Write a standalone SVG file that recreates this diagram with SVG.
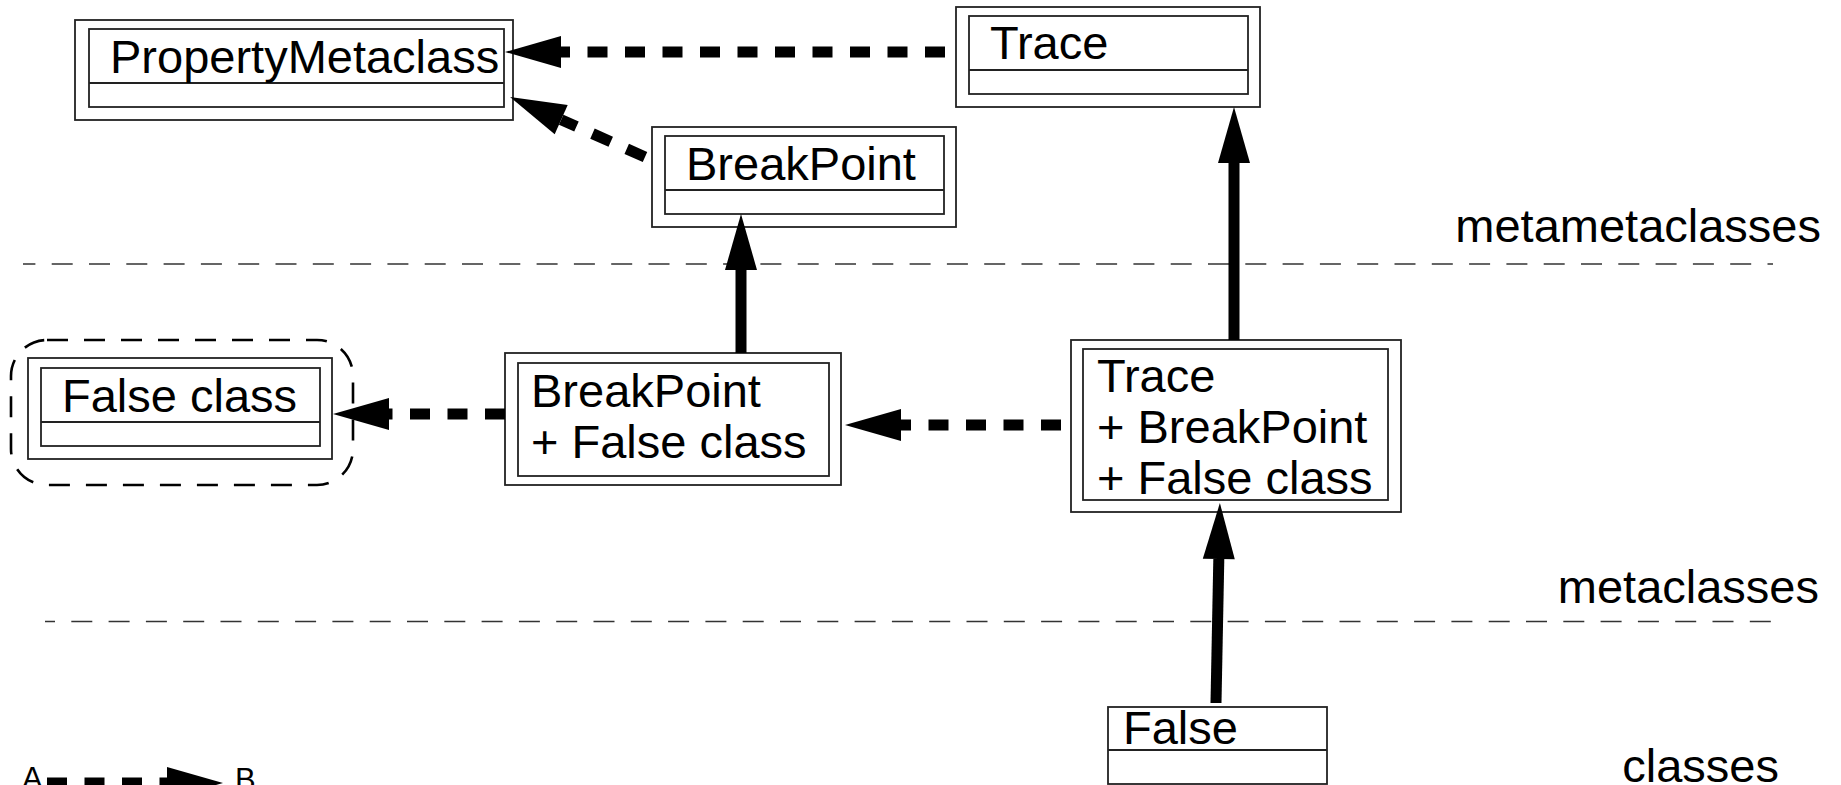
<svg xmlns="http://www.w3.org/2000/svg" width="1841" height="785" viewBox="0 0 1841 785">
<style>
  .box { fill: #ffffff; stroke: #222222; stroke-width: 1.8; }
  .div { stroke: #222222; stroke-width: 1.8; fill: none; }
  .t { font-family: "Liberation Sans", Arial, sans-serif; font-size: 47px; fill: #000000; }
  .lg { font-family: "Liberation Sans", Arial, sans-serif; font-size: 31px; fill: #000000; }
  .sep { stroke: #333333; stroke-width: 1.7; stroke-dasharray: 21 16.3; fill: none; }
  .solid { stroke: #000000; stroke-width: 11; fill: none; marker-end: url(#head); }
  .dash { stroke: #000000; stroke-width: 11; fill: none; stroke-dasharray: 20 17.5; marker-end: url(#head); }
  .group { fill: none; stroke: #000000; stroke-width: 2.6; stroke-dasharray: 21 16; }
</style>
<defs>
  <marker id="head" markerUnits="userSpaceOnUse" markerWidth="56" markerHeight="32" viewBox="0 0 56 32" refX="0" refY="16" orient="auto" overflow="visible">
    <path d="M0,0 L56,16 L0,32 Z" fill="#000000"/>
  </marker>
</defs>
<rect x="0" y="0" width="1841" height="785" fill="#ffffff"/>

<g id="separators">
  <path class="sep" d="M23,264 H1773" stroke-dashoffset="8.6"/>
  <path class="sep" d="M45,621.5 H1787" stroke-dashoffset="11"/>
</g>

<g id="level-labels">
  <text class="t" x="1821" y="242" text-anchor="end">metametaclasses</text>
  <text class="t" x="1819" y="603" text-anchor="end">metaclasses</text>
  <text class="t" x="1779" y="782" text-anchor="end">classes</text>
</g>

<g id="node-propertymetaclass">
  <rect class="box" x="75" y="20" width="438" height="100"/>
  <rect class="box" x="89" y="29" width="415" height="78"/>
  <path class="div" d="M89,83 H504"/>
  <text class="t" x="110" y="73">PropertyMetaclass</text>
</g>

<g id="node-trace">
  <rect class="box" x="956" y="7" width="304" height="100"/>
  <rect class="box" x="969" y="16" width="279" height="78"/>
  <path class="div" d="M969,70 H1248"/>
  <text class="t" x="990" y="59">Trace</text>
</g>

<g id="node-breakpoint">
  <rect class="box" x="652" y="127" width="304" height="100"/>
  <rect class="box" x="665" y="136" width="279" height="78"/>
  <path class="div" d="M665,190 H944"/>
  <text class="t" x="686" y="180">BreakPoint</text>
</g>

<g id="node-falseclass">
  <rect class="group" x="11" y="340" width="342" height="145" rx="36" ry="36"/>
  <rect class="box" x="28" y="358" width="304" height="101"/>
  <rect class="box" x="41" y="368" width="279" height="78"/>
  <path class="div" d="M41,422 H320"/>
  <text class="t" x="62" y="412">False class</text>
</g>

<g id="node-breakpoint-falseclass">
  <rect class="box" x="505" y="353" width="336" height="132"/>
  <rect class="box" x="518" y="363" width="311" height="113"/>
  <text class="t" x="531" y="407">BreakPoint</text>
  <text class="t" x="531" y="458">+ False class</text>
</g>

<g id="node-trace-breakpoint-falseclass">
  <rect class="box" x="1071" y="340" width="330" height="172"/>
  <rect class="box" x="1083" y="349" width="305" height="151"/>
  <text class="t" x="1097" y="392">Trace</text>
  <text class="t" x="1097" y="443">+ BreakPoint</text>
  <text class="t" x="1097" y="494">+ False class</text>
</g>

<g id="node-false">
  <rect class="box" x="1108" y="707" width="219" height="77"/>
  <path class="div" d="M1108,750 H1327"/>
  <text class="t" x="1123" y="744">False</text>
</g>

<g id="connectors">
  <path class="dash" d="M945,52 L561,52"/>
  <path class="dash" d="M645,157 L561.2,119.7"/>
  <path class="solid" d="M741,353 L741,270"/>
  <path class="solid" d="M1234,340 L1234,163"/>
  <path class="dash" d="M505,414 L389,414"/>
  <path class="dash" d="M1061,425 L901,425"/>
  <path class="solid" d="M1216,703 L1218.8,559"/>
</g>

<g id="legend">
  <text class="lg" x="22" y="789">A</text>
  <path class="dash" d="M47,783 L167,783"/>
  <text class="lg" x="235" y="790">B</text>
</g>
</svg>
